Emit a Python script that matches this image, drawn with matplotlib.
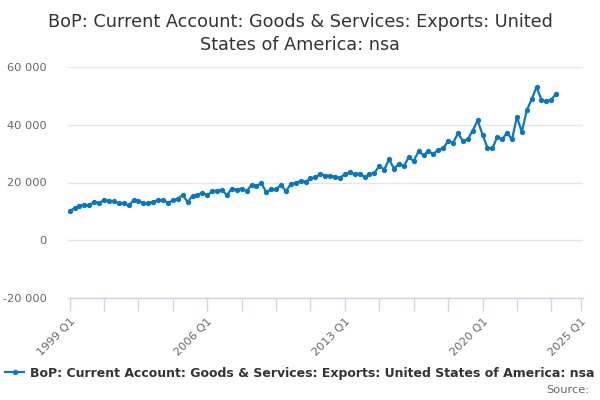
import matplotlib.pyplot as plt
from matplotlib.ticker import FuncFormatter, FixedLocator

# Quarterly values, 1999 Q1 .. 2023 Q4
exports = [
    10000, 11200, 12000, 12300, 12100, 13300, 12900, 13900, 13700, 13500,
    12800, 12900, 12100, 13800, 13600, 12800, 12800, 13400, 13800, 14000,
    13000, 13800, 14400, 15700, 13200, 15400, 15700, 16500, 15500, 17000,
    17200, 17400, 15600, 17900, 17500, 17900, 17000, 19100, 18800, 19700,
    16700, 17600, 17600, 19200, 16900, 19500, 19900, 20500, 20300, 21400,
    21800, 22900, 22400, 22400, 22000, 21700, 22800, 23500, 22800, 23100,
    21900, 22800, 23300, 25700, 24500, 28000, 24800, 26500, 25600, 28800,
    27400, 30900, 29400, 30900, 29800, 31400, 31800, 34400, 33700, 37000,
    34400, 34900, 38000, 41500, 36600, 32100, 31800, 35800, 34900, 37300,
    34900, 42700, 37500, 45000, 48800, 53100, 48500, 48100, 48700, 50800,
]
start_year = 1999
label_years = [1999, 2006, 2013, 2020, 2025]
y_ticks = [-20000, 0, 20000, 40000, 60000]

title = "BoP: Current Account: Goods & Services: Exports: United\nStates of America: nsa"
series_name = "BoP: Current Account: Goods & Services: Exports: United States of America: nsa"

line_color = "#0a78c0"
grid_color = "#e6e6e6"
axis_color = "#ccd6eb"
label_color = "#666666"

quarters = list(range(len(exports)))
major_pos = [(y - start_year) * 4 for y in label_years]
minor_pos = list(range(0, major_pos[-1], 7))

fig = plt.figure(figsize=(6, 4), dpi=100)
ax = fig.add_axes([0.1128, 0.255, 0.8585, 0.5775])

ax.plot(quarters, exports, color=line_color, linewidth=1.6,
        marker="o", markersize=2.8, label=series_name)

ax.set_xlim(-0.4, 104.4)
ax.set_ylim(-20000, 60000)

ax.yaxis.set_major_locator(FixedLocator(y_ticks))
ax.yaxis.set_major_formatter(FuncFormatter(lambda v, p: f"{v:,.0f}".replace(",", " ")))
ax.grid(axis="y", color=grid_color, linewidth=1)
ax.set_axisbelow(True)

ax.set_xticks(major_pos)
ax.set_xticklabels([f"{y} Q1" for y in label_years], rotation=45,
                   ha="right", rotation_mode="anchor")
ax.set_xticks(minor_pos, minor=True)
ax.tick_params(axis="x", which="both", direction="out", length=9,
               color=axis_color, width=1, labelcolor=label_color,
               labelsize=8.2, pad=4)
ax.tick_params(axis="y", length=0, labelcolor=label_color, labelsize=8.2, pad=15)

for side in ["top", "right", "left"]:
    ax.spines[side].set_visible(False)
ax.spines["bottom"].set_color(axis_color)
ax.spines["bottom"].set_linewidth(1)

fig.suptitle(title, x=0.5, y=0.968, fontsize=12.7, color="#333333",
             linespacing=1.4, va="top")

leg = fig.legend(loc="center", bbox_to_anchor=(0.5, 0.067), frameon=False,
                 handlelength=1.5, handletextpad=0.5,
                 prop={"weight": "bold", "size": 9})
for t in leg.get_texts():
    t.set_color("#333333")

fig.text(0.983, 0.025, "Source:", ha="right", va="center",
         fontsize=8.2, color=label_color)

plt.savefig("out.png", dpi=100)
